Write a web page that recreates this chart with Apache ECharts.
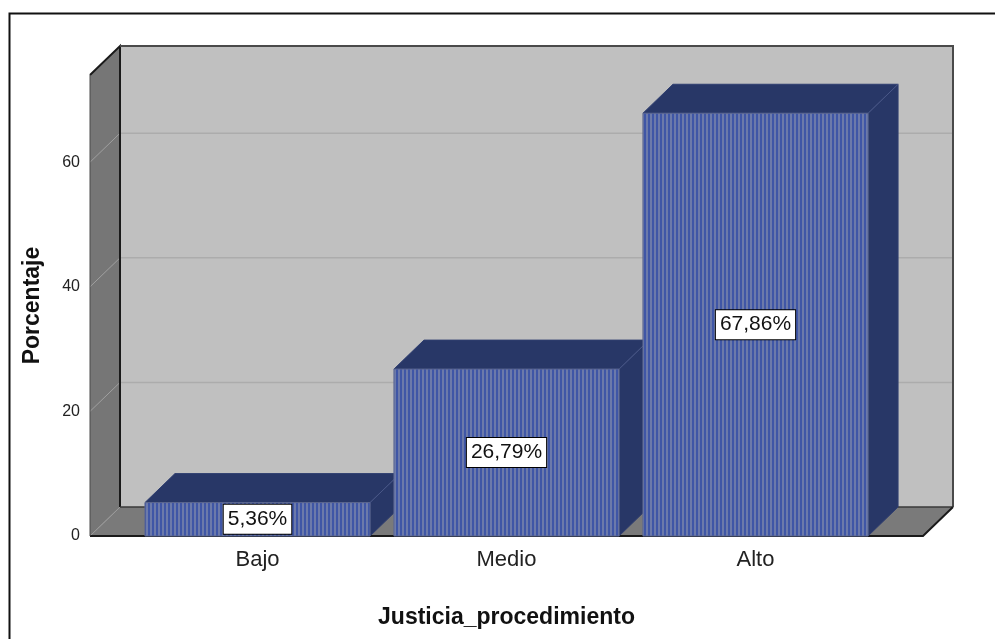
<!DOCTYPE html>
<html>
<head>
<meta charset="utf-8">
<script src="https://cdn.jsdelivr.net/npm/echarts@6/dist/echarts.min.js"></script>
<style>
  html, body { margin: 0; padding: 0; background: #ffffff; }
  #chart { width: 995px; height: 639px; }
</style>
</head>
<body>
<div id="chart"></div>
<script>
// Data
const categories = ['Bajo', 'Medio', 'Alto'];
const percentages = [5.36, 26.79, 67.86];
const valueLabels = ['5,36%', '26,79%', '67,86%'];
const yTicks = [0, 20, 40, 60];
const yMax = 74;

// 3D look: depth offset of the back plane relative to the front plane
const DX = 30, DY = -29;
const FRAME_PAD = 43;      // floor overhang beyond the outer category bands
const BAR_RATIO = 0.904;   // bar width as share of the category band

// vertical stripe texture for the bar fronts
function stripeCanvas() {
  const c = document.createElement('canvas');
  c.width = 4; c.height = 4;
  const g = c.getContext('2d');
  g.fillStyle = '#3f56a6'; g.fillRect(0, 0, 2, 4);
  g.fillStyle = '#6c7aaa'; g.fillRect(2, 0, 2, 4);
  return c;
}
const stripes = { image: stripeCanvas(), repeat: 'repeat' };

const chart = echarts.init(document.getElementById('chart'), null, { renderer: 'canvas' });

function renderFrame(params, api) {
  const band = api.size([1, 0])[0];
  const first = api.coord([0, 0]);
  const last = api.coord([categories.length - 1, 0]);
  const x0 = first[0] - band / 2 - FRAME_PAD;
  const x1 = last[0] + band / 2 + FRAME_PAD;
  const yb = first[1];
  const yt = api.coord([0, yMax])[1];
  const kids = [];
  // back wall
  kids.push({ type: 'polygon', shape: { points: [[x0 + DX, yt + DY], [x1 + DX, yt + DY], [x1 + DX, yb + DY], [x0 + DX, yb + DY]] },
    style: { fill: '#c0c0c0' } });
  // left wall
  kids.push({ type: 'polygon', shape: { points: [[x0, yt], [x0 + DX, yt + DY], [x0 + DX, yb + DY], [x0, yb]] },
    style: { fill: '#767676' } });
  // floor
  kids.push({ type: 'polygon', shape: { points: [[x0, yb], [x1, yb], [x1 + DX, yb + DY], [x0 + DX, yb + DY]] },
    style: { fill: '#7a7a7a' } });
  // grid lines on back and left walls
  yTicks.forEach(function (v) {
    if (v === 0) return;
    const y = api.coord([0, v])[1];
    kids.push({ type: 'line', shape: { x1: x0 + DX, y1: y + DY, x2: x1 + DX, y2: y + DY },
      style: { stroke: '#acacac', lineWidth: 1.5 } });
    kids.push({ type: 'line', shape: { x1: x0, y1: y, x2: x0 + DX, y2: y + DY },
      style: { stroke: '#a0a0a0', lineWidth: 1 } });
  });
  // floor/left-wall seam
  kids.push({ type: 'line', shape: { x1: x0, y1: yb, x2: x0 + DX, y2: yb + DY },
    style: { stroke: '#9a9a9a', lineWidth: 1 } });
  // edges
  const dark = { stroke: '#1a1a1a', lineWidth: 2, fill: null };
  kids.push({ type: 'polyline', shape: { points: [[x0 + DX, yb + DY], [x0 + DX, yt + DY], [x0, yt]] }, style: dark });
  kids.push({ type: 'line', shape: { x1: x0 + DX, y1: yb + DY, x2: x1 + DX, y2: yb + DY },
    style: { stroke: '#3a3a3a', lineWidth: 1.5 } });
  kids.push({ type: 'polyline', shape: { points: [[x0 + DX, yt + DY], [x1 + DX, yt + DY], [x1 + DX, yb + DY]] },
    style: { stroke: '#4a4a4a', lineWidth: 2, fill: null } });
  kids.push({ type: 'polyline', shape: { points: [[x0, yb], [x1, yb], [x1 + DX, yb + DY]] }, style: dark });
  kids.push({ type: 'line', shape: { x1: x0, y1: yt, x2: x0, y2: yb },
    style: { stroke: '#4a4a4a', lineWidth: 1 } });
  return { type: 'group', children: kids };
}

function renderBar(params, api) {
  const idx = api.value(0);
  const val = api.value(1);
  const base = api.coord([idx, 0]);
  const top = api.coord([idx, val]);
  const w = api.size([1, 0])[0] * BAR_RATIO;
  const xl = base[0] - w / 2, xr = base[0] + w / 2;
  const yt = top[1], yb = base[1];
  return {
    type: 'group',
    children: [
      { type: 'polygon', shape: { points: [[xr, yt], [xr + DX, yt + DY], [xr + DX, yb + DY], [xr, yb]] },
        style: { fill: '#283767', stroke: '#2f3e70', lineWidth: 1 } },
      { type: 'polygon', shape: { points: [[xl, yt], [xr, yt], [xr + DX, yt + DY], [xl + DX, yt + DY]] },
        style: { fill: '#283767', stroke: '#2f3e70', lineWidth: 1 } },
      { type: 'line', shape: { x1: xr, y1: yt, x2: xr + DX, y2: yt + DY },
        style: { stroke: '#4a5888', lineWidth: 1 } },
      { type: 'rect', shape: { x: xl, y: yt, width: w, height: yb - yt },
        style: { fill: stripes, stroke: '#5b6690', lineWidth: 1 },
        textContent: {
          style: {
            text: valueLabels[idx],
            fontFamily: 'Liberation Sans, Arial, sans-serif',
            fontSize: 21,
            fill: '#111111',
            backgroundColor: '#ffffff',
            borderColor: '#000000',
            borderWidth: 1,
            padding: [5, 4, 3, 4]
          }
        },
        textConfig: { position: 'inside' } }
    ]
  };
}

const option = {
  animation: false,
  backgroundColor: '#ffffff',
  graphic: [{
    type: 'rect', left: 7, top: 11, z: 0,
    shape: { x: 0, y: 0, width: 1000, height: 700 },
    style: { fill: null, stroke: '#111111', lineWidth: 2 }
  }],
  grid: { left: 133, right: 115, top: 75, bottom: 103 },
  xAxis: {
    type: 'category',
    data: categories,
    axisLine: { show: false },
    axisTick: { show: false },
    axisLabel: { fontFamily: 'Liberation Sans, Arial, sans-serif', fontSize: 22, color: '#222222', margin: 13 },
    name: 'Justicia_procedimiento',
    nameLocation: 'middle',
    nameGap: 70,
    nameTextStyle: { fontFamily: 'Liberation Sans, Arial, sans-serif', fontSize: 23, fontWeight: 'bold', color: '#111111' }
  },
  yAxis: {
    type: 'value',
    min: 0, max: yMax, interval: 20,
    axisLine: { show: false },
    axisTick: { show: false },
    splitLine: { show: false },
    axisLabel: {
      fontFamily: 'Liberation Sans, Arial, sans-serif', fontSize: 16, color: '#222222', margin: 53,
      formatter: function (v) { return yTicks.indexOf(v) >= 0 ? String(v) : ''; }
    },
    name: 'Porcentaje',
    nameLocation: 'middle',
    nameRotate: 90,
    nameGap: 89,
    nameTextStyle: { fontFamily: 'Liberation Sans, Arial, sans-serif', fontSize: 23, fontWeight: 'bold', color: '#111111' }
  },
  series: [
    { type: 'custom', name: 'frame', renderItem: renderFrame, data: [[0, 0]], z: 1, silent: true, clip: false },
    { type: 'custom', name: 'Porcentaje', renderItem: renderBar, z: 2, clip: false,
      data: percentages.map(function (v, i) { return [i, v]; }) }
  ]
};
chart.setOption(option);
</script>
</body>
</html>
